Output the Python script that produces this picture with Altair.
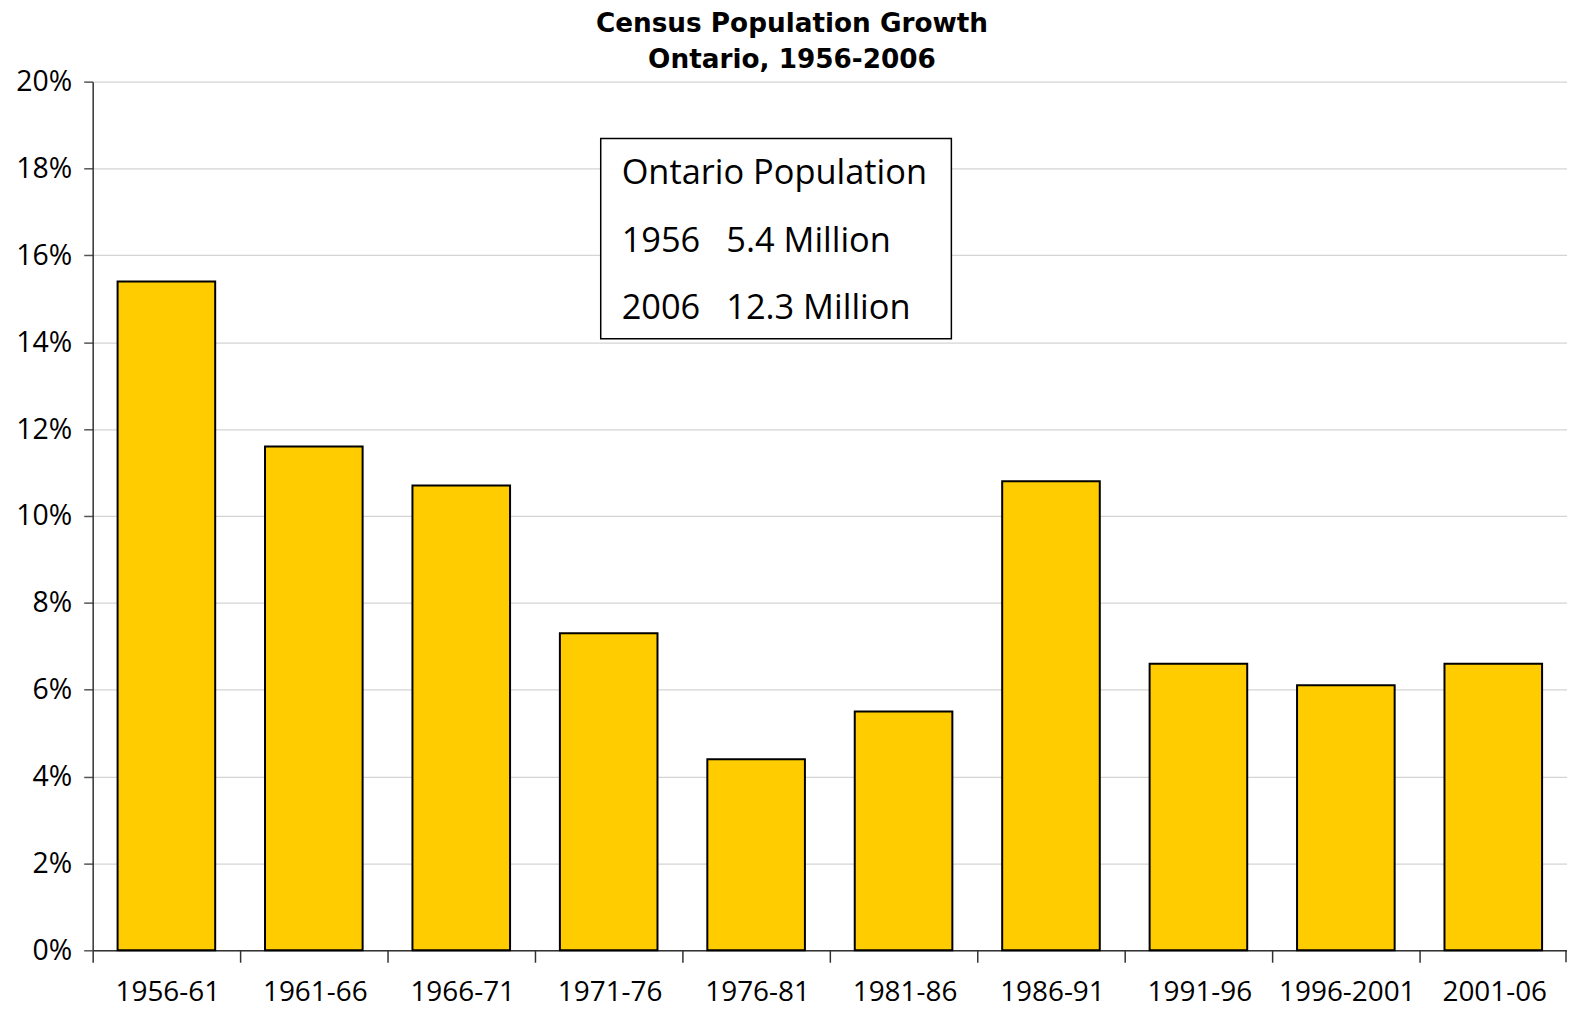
import altair as alt
import pandas as pd

# ---- data ----
periods = ["1956-61", "1961-66", "1966-71", "1971-76", "1976-81",
           "1981-86", "1986-91", "1991-96", "1996-2001", "2001-06"]
growth = [0.154, 0.116, 0.107, 0.073, 0.044, 0.055, 0.108, 0.066, 0.061, 0.066]

title_lines = ["Census Population Growth", "Ontario, 1956-2006"]
box_heading = "Ontario Population"
box_years = ["1956", "2006"]
box_values = ["5.4 Million", "12.3 Million"]
y_ticks = [0, 0.02, 0.04, 0.06, 0.08, 0.10, 0.12, 0.14, 0.16, 0.18, 0.20]

W, H = 1480, 872
FONT = "Open Sans"

df = pd.DataFrame({"period": periods, "growth": growth})

step = W / len(periods)
pad_inner = 0.338
pad_outer = pad_inner / 2
gap = step * pad_outer
bar_w = step * (1 - pad_inner)

bars = alt.Chart(df).mark_bar(
    color="#FFCC00", stroke="#000000", strokeWidth=2
).encode(
    x=alt.X("period:N", sort=periods,
            scale=alt.Scale(paddingInner=pad_inner, paddingOuter=pad_outer),
            axis=alt.Axis(title=None, labelAngle=0, grid=False,
                          bandPosition=0, tickOffset=-gap,
                          labelOffset=bar_w / 2 - gap + 2,
                          tickSize=12, tickColor="#333333", tickWidth=1.5,
                          domainColor="#333333", domainWidth=1.5,
                          labelFont=FONT, labelFontSize=28, labelColor="#000000",
                          labelBaseline="alphabetic", labelPadding=38,
                          labelFlush=False, labelOverlap=False)),
    y=alt.Y("growth:Q",
            scale=alt.Scale(domain=[0, 0.2], nice=False),
            axis=alt.Axis(title=None, values=y_ticks, format=".0%",
                          grid=True, gridColor="#d4d4d4", gridWidth=1.3,
                          tickSize=9, tickColor="#555555", tickWidth=1.5,
                          domainColor="#333333", domainWidth=1.5,
                          labelFont=FONT, labelFontSize=28.5, labelColor="#000000",
                          labelPadding=12)),
)

# last boundary tick at the right end of the category axis
end_tick = alt.Chart(pd.DataFrame({"k": [0]})).mark_rule(
    color="#333333", strokeWidth=1.5
).encode(x=alt.value(W - 1), y=alt.value(H), y2=alt.value(H + 12))

# annotation box
box = alt.Chart(pd.DataFrame({"k": [0]})).mark_rect(
    fill="white", stroke="#000000", strokeWidth=1.5
).encode(x=alt.value(510), x2=alt.value(862), y=alt.value(57), y2=alt.value(258))

def line(txt, x, y):
    return alt.Chart(pd.DataFrame({"t": [txt]})).mark_text(
        align="left", baseline="middle", font=FONT, fontSize=34.5, color="#000000"
    ).encode(text="t:N", x=alt.value(x), y=alt.value(y))

heading = line(box_heading, 531, 93)
years1 = line(box_years[0], 531, 161)
vals1 = line(box_values[0], 636, 161)
years2 = line(box_years[1], 531, 228)
vals2 = line(box_values[1], 636, 228)

chart = alt.layer(bars, end_tick, box, heading, years1, vals1, years2, vals2).properties(
    width=W, height=H,
    title=alt.TitleParams(text=title_lines, font="DejaVu Sans", fontSize=26.4,
                          fontWeight="bold", color="#000000", anchor="middle",
                          dx=-38, offset=-6, lineHeight=36),
    autosize=alt.AutoSizeParams(type="none"),
    padding={"left": 85, "top": 72, "right": 0, "bottom": 56},
).configure_view(stroke=None)

chart.save("out.html", embed_options={"renderer": "svg", "actions": False})
